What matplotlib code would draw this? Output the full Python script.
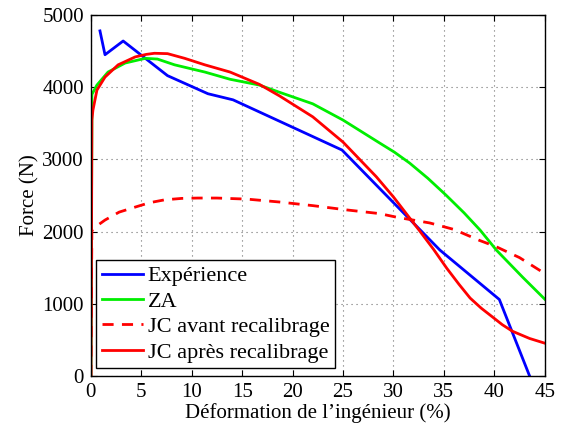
import matplotlib
matplotlib.use('Agg')
import matplotlib.pyplot as plt
import numpy as np

plt.rcParams['font.family'] = ['Liberation Serif', 'DejaVu Serif']

# Expérience
x_exp = [0.9, 1.4, 3.2, 7.6, 11.6, 14.1, 24.9, 34.6, 40.5, 43.5]
f_exp = [4780, 4450, 4640, 4160, 3910, 3825, 3130, 1745, 1060, 0]

# ZA
x_za = [0.0, 0.1, 0.1, 0.6, 1.7, 3.4, 5.4, 6.6, 8.3, 11.3, 13.8, 16.7, 18.7, 22.0, 25.0, 28.6,
        30.1, 31.6, 33.4, 35.2, 37.0, 38.6, 40.2, 42.8, 45.0]
f_za = [0, 3550, 3900, 4030, 4210, 4335, 4400, 4390, 4310, 4210, 4110, 4030, 3930, 3770, 3545, 3230,
        3100, 2950, 2740, 2507, 2260, 2020, 1745, 1370, 1065]

# JC avant recalibrage
x_jca = [0.0, 0.05, 0.1, 0.6, 1.4, 2.8, 4.4, 5.8, 7.3, 9.0, 10.6, 12.5, 15.5, 18.7, 22.0, 25.4,
         28.6, 30.3, 33.6, 36.0, 38.5, 40.2, 42.5, 45.0]
f_jca = [0, 1000, 2020, 2080, 2160, 2270, 2340, 2400, 2440, 2460, 2465, 2465, 2450, 2410, 2360, 2300,
         2250, 2200, 2120, 2030, 1880, 1790, 1640, 1420]

# JC après recalibrage
x_jcp = [0.0, 0.05, 0.1, 0.2, 0.6, 1.4, 2.7, 4.4, 5.5, 6.3, 7.6, 9.3, 11.3, 13.8, 16.7, 18.7,
         22.0, 25.0, 28.3, 30.0, 31.6, 32.6, 34.0, 35.3, 36.5, 37.6, 38.7, 39.8, 40.8, 41.8,
         43.5, 45.0]
f_jcp = [0, 1200, 3545, 3680, 3960, 4140, 4310, 4420, 4455, 4470, 4465, 4400, 4310, 4210, 4040, 3880,
         3590, 3240, 2760, 2480, 2190, 2010, 1750, 1490, 1270, 1080, 940, 820, 710, 620,
         520, 455]

fig = plt.figure(figsize=(5.61, 4.29), dpi=100)
ax = fig.add_axes([0.162, 0.1235, 0.809, 0.8415])

lw = 2.0
ax.plot(x_exp, f_exp, color='#0000ff', lw=lw, label='Expérience')
ax.plot(x_za, f_za, color='#00ee00', lw=lw, label='ZA')
ax.plot(x_jca, f_jca, color='#ff0000', lw=lw, ls='--', dashes=(4, 3), label='JC avant recalibrage')
ax.plot(x_jcp, f_jcp, color='#ff0000', lw=lw, label='JC après recalibrage')

ax.set_xlim(0, 45)
ax.set_ylim(0, 5000)
ax.set_xticks(np.arange(0, 46, 5))
ax.set_yticks(np.arange(0, 5001, 1000))
ax.grid(True, ls=(0, (1, 3.5)), color='#707070', lw=0.8)
ax.tick_params(direction='in', top=True, right=True, labelsize=15, length=4)
ax.tick_params(axis='x', pad=5)
ax.tick_params(axis='y', pad=5)
for s in ax.spines.values():
    s.set_linewidth(1.0)

ax.set_xlabel('Déformation de l\u2019ingénieur (%)', fontsize=15, labelpad=1)
ax.set_ylabel('Force (N)', fontsize=15, labelpad=2)

leg = ax.legend(loc='lower left', bbox_to_anchor=(-0.005, 0.0), fontsize=16, frameon=True,
                fancybox=False, edgecolor='black', framealpha=1, handlelength=1.85,
                borderpad=0.25, labelspacing=0.22, handletextpad=0.2, borderaxespad=0.35)
leg.get_frame().set_linewidth(1.0)

fig.savefig('out.png', dpi=100)
